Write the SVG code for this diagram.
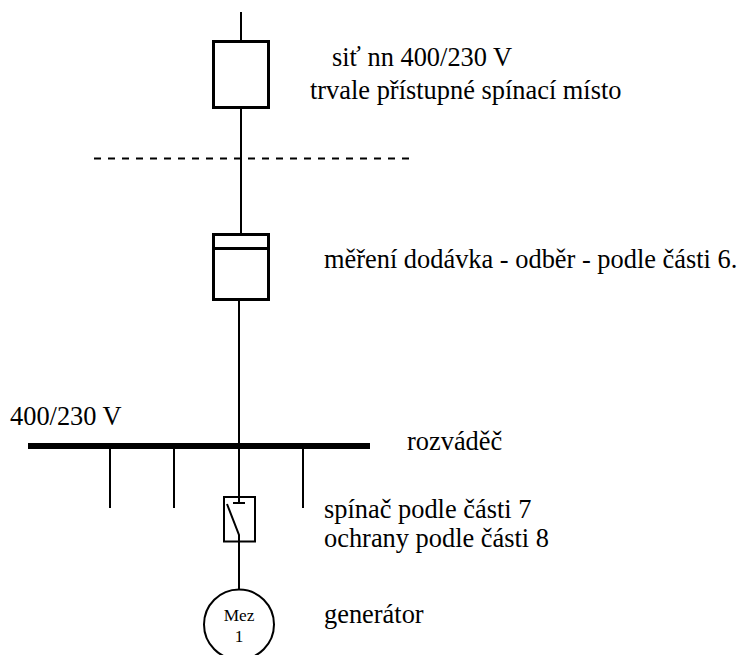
<svg xmlns="http://www.w3.org/2000/svg" width="740" height="655" viewBox="0 0 740 655">
<style>
text{font-family:"Liberation Serif","Times New Roman",serif;fill:#000;font-size:26.4px}
.b{fill:#fff;stroke:#000;stroke-width:3}
.l{fill:none;stroke:#000;stroke-width:2}
.s{font-size:17.3px}
</style>
<rect width="740" height="655" fill="#fff"/>
<g id="connectors">
<path class="l" d="M241 12V41M241 107V233M239 300V497M239 542V590M110 449V508M174 449V508M303 449V508M233 503H245M239 449V503"/>
<path d="M94 158.500H411" class="l" stroke-dasharray="7 7"/>
</g>
<g id="bus"><path d="M28 446H370" fill="none" stroke="#000" stroke-width="6"/></g>
<g id="box1"><rect class="b" x="213.500" y="41.500" width="55" height="66"/></g>
<g id="box2"><rect class="b" x="213.500" y="234.500" width="55" height="65"/><path class="b" d="M213.500 248.500H268.500"/></g>
<g id="switch"><rect x="224" y="497" width="31" height="44.500" fill="none" stroke="#000" stroke-width="2"/><path class="l" d="M227 504L239 535V542"/></g>
<g id="generator"><circle cx="239" cy="624.500" r="35" fill="#fff" stroke="#000" stroke-width="2"/><text class="s" x="239" y="621" text-anchor="middle">Mez</text><text class="s" x="239" y="642" text-anchor="middle">1</text></g>
<g id="labels">
<text x="332" y="66">siť nn 400/230 V</text>
<text x="310" y="99">trvale přístupné spínací místo</text>
<text x="324" y="268">měření dodávka - odběr - podle části 6.</text>
<text x="10" y="425">400/230 V</text>
<text x="407" y="450">rozváděč</text>
<text x="324" y="518">spínač podle části 7</text>
<text x="324" y="547">ochrany podle části 8</text>
<text x="324" y="623">generátor</text>
</g>
</svg>
